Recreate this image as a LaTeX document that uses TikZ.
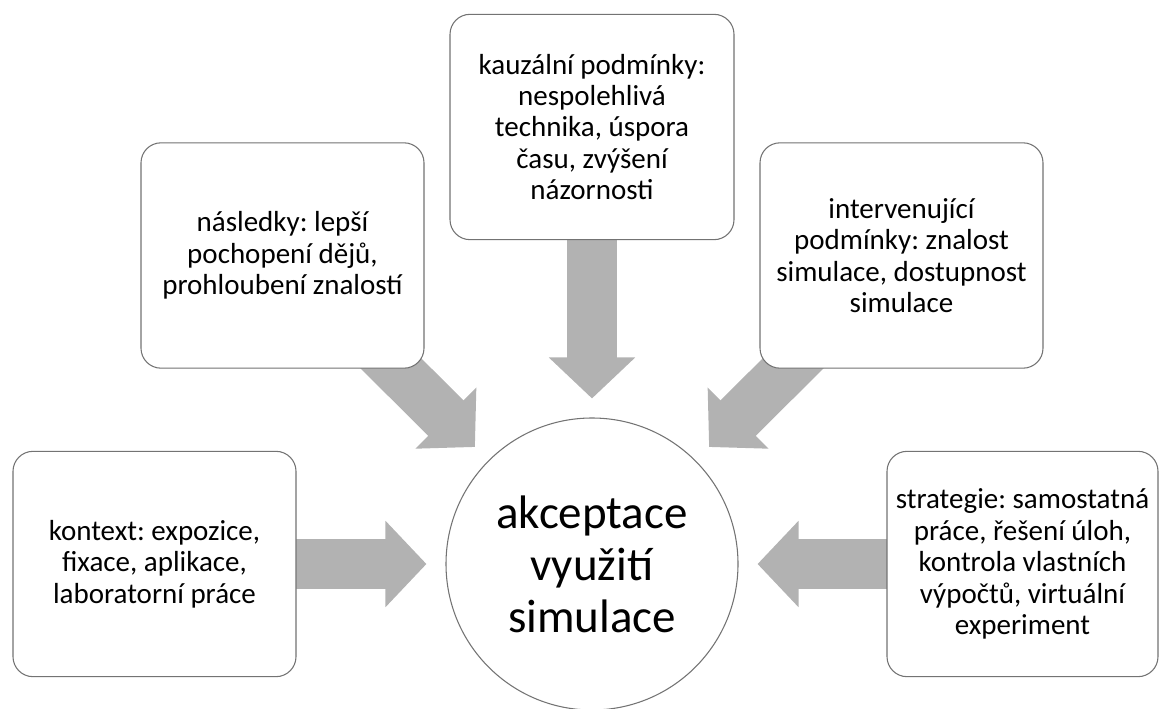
\documentclass[tikz,border=0pt]{standalone}
\usepackage{fontspec}
\setmainfont{Carlito}
\frenchspacing
\usetikzlibrary{arrows.meta}
\pgfdeclarelayer{background}
\pgfsetlayers{background,main}
\definecolor{arrowgray}{RGB}{178,178,178}
\definecolor{edgegray}{RGB}{115,115,115}
\tikzset{
  box/.style={draw=edgegray, line width=0.8pt, fill=white, rounded corners=15pt,
    minimum height=169pt, inner sep=0pt, align=center,
    font=\frenchspacing\fontsize{21.75}{23.6}\selectfont},
  hub/.style={draw=edgegray, line width=0.8pt, fill=white, circle, minimum size=219pt,
    inner sep=0pt, align=center, font=\fontsize{35.25}{39}\selectfont},
  bigarrow/.style={draw=arrowgray, line width=37.5pt,
    -{Triangle[length=30.75pt, width=63pt]}, shorten >=14.25pt}
}
\begin{document}
\begin{tikzpicture}[x=0.75pt, y=-0.75pt]
\useasboundingbox (0,0) rectangle (1160,709);
\node[hub] (c) at (592,564) {akceptace\\využití\\simulace};
\node[box, minimum width=213pt] (kauz) at (592,127)
  {kauzální podmínky:\\nespolehlivá\\technika, úspora\\času, zvýšení\\názornosti};
\node[box, minimum width=212.25pt] (nasl) at (282.5,255.5)
  {následky: lepší\\pochopení dějů,\\prohloubení znalostí};
\node[box, minimum width=212.25pt] (interv) at (901.5,255.5)
  {intervenující\\podmínky: znalost\\simulace, dostupnost\\simulace};
\node[box, minimum width=212.25pt] (ctx) at (154.5,564)
  {kontext: expozice,\\fixace, aplikace,\\laboratorní práce};
\node[box, minimum width=203.25pt] (strat) at (1022.5,564)
  {strategie: samostatná\\práce, řešení úloh,\\kontrola vlastních\\výpočtů, virtuální\\experiment};
\begin{pgfonlayer}{background}
  \draw[bigarrow] (kauz.center) -- (c.north);
  \draw[bigarrow] (nasl.center) -- (c.north west);
  \draw[bigarrow] (interv.center) -- (c.north east);
  \draw[bigarrow] (ctx.center) -- (c.west);
  \draw[bigarrow] (strat.center) -- (c.east);
\end{pgfonlayer}
\end{tikzpicture}
\end{document}
